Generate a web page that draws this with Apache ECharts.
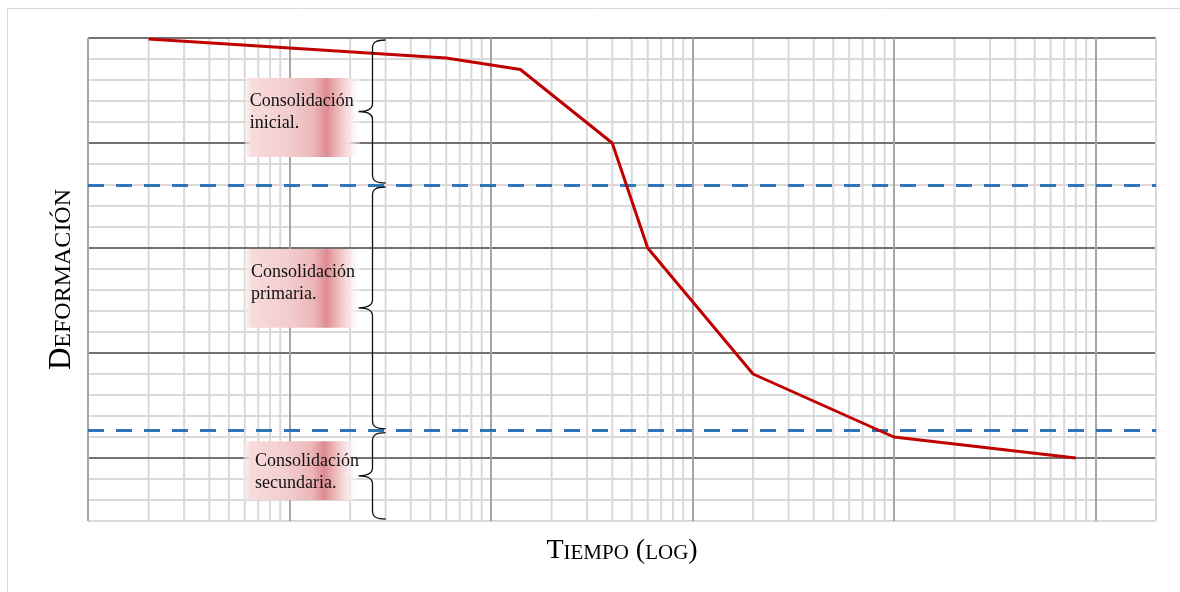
<!DOCTYPE html>
<html>
<head>
<meta charset="utf-8">
<title>Curva de consolidación</title>
<script src="https://cdn.jsdelivr.net/npm/echarts@6/dist/echarts.min.js"></script>
<style>
  html, body { margin: 0; padding: 0; background: #ffffff; }
  #chart { width: 1180px; height: 592px; }
</style>
</head>
<body>
<div id="chart"></div>
<script>
// Time (log scale) and deformation readings of the consolidation curve
const tiempo = [2, 60, 140, 400, 600, 2000, 10000, 80000];
const deformacion = [0.05, 0.95, 1.5, 5, 10, 16, 19, 20];

// Axis ranges
const tiempoMin = 1;
const tiempoMax = 200000;
const deformacionMin = 0;
const deformacionMax = 23;
const decadas = [1, 10, 100, 1000, 10000];

// Limits between the three consolidation stages (dashed lines)
const limitesEtapa = [7, 18.7];
const nombresEtapa = ['Consolidación\ninicial.', 'Consolidación\nprimaria.', 'Consolidación\nsecundaria.'];

// Where each stage note sits (time for x, deformation for y)
const llaveTiempo = 25.6;
const notaTiempoIzq = [6.0, 6.0, 5.9];
const notaTiempoDer = [22.4, 22.4, 21.7];
const notaTextoTiempo = [6.35, 6.45, 6.75];
const notaSup = [1.9, 10.05, 19.2];
const notaInf = [5.67, 13.8, 22.0];
const notaTextoDef = [3.55, 11.67, 20.69];

// Intermediate lines inside each decade: 2..9 x 10^k
const lineasMenores = [];
decadas.forEach(d => { for (let m = 2; m <= 9; m++) lineasMenores.push(m * d); });

const serif = 'Liberation Serif, Times New Roman, serif';

const chart = echarts.init(document.getElementById('chart'), null, { renderer: 'canvas' });

const bordesEtapa = [deformacionMin].concat(limitesEtapa, [deformacionMax]);
const llaves = nombresEtapa.map((_, i) => [llaveTiempo, bordesEtapa[i], bordesEtapa[i + 1]]);
const notas = nombresEtapa.map((_, i) => [notaTiempoIzq[i], notaSup[i], notaTiempoDer[i], notaInf[i], notaTextoTiempo[i], notaTextoDef[i]]);

const degradado = new echarts.graphic.LinearGradient(0, 0, 1, 0, [
  { offset: 0.0, color: 'rgba(250,236,236,0.5)' },
  { offset: 0.06, color: 'rgba(247,220,221,1)' },
  { offset: 0.40, color: 'rgba(243,203,205,1)' },
  { offset: 0.60, color: 'rgba(237,182,185,1)' },
  { offset: 0.71, color: 'rgba(221,140,145,1)' },
  { offset: 0.79, color: 'rgba(236,178,181,1)' },
  { offset: 0.90, color: 'rgba(248,225,226,0.95)' },
  { offset: 1.0, color: 'rgba(255,255,255,0.3)' }
]);

const option = {
  animation: false,
  backgroundColor: '#ffffff',
  graphic: [{
    type: 'rect',
    shape: { x: 7.5, y: 8.5, width: 1300, height: 700 },
    style: { fill: 'none', stroke: '#d9d9d9', lineWidth: 1 },
    silent: true, z: -10
  }],
  grid: { left: 88, right: 24, top: 38, bottom: 71, containLabel: false },
  xAxis: {
    type: 'log',
    logBase: 10,
    min: tiempoMin,
    max: tiempoMax,
    z: 2,
    name: '{a|T}{b|IEMPO}{s| }{a|(}{b|LOG}{a|)}',
    nameLocation: 'middle',
    nameGap: 12,
    nameTextStyle: {
      fontFamily: serif,
      color: '#000',
      rich: {
        a: { fontFamily: serif, fontSize: 28, color: '#000', verticalAlign: 'bottom', lineHeight: 32 },
        s: { fontFamily: serif, fontSize: 28, color: '#000', verticalAlign: 'bottom', lineHeight: 32, width: 7 },
        b: { fontFamily: serif, fontSize: 21, color: '#000', verticalAlign: 'bottom', lineHeight: 32, padding: [0, 0, 1, 0] }
      }
    },
    axisLine: { show: false },
    axisTick: { show: false },
    axisLabel: { show: false },
    splitLine: {
      show: true,
      lineStyle: { width: 2, color: ['#a6a6a6', '#a6a6a6', '#a6a6a6', '#a6a6a6', '#a6a6a6', '#a6a6a6', '#d9d9d9'] }
    }
  },
  yAxis: {
    type: 'value',
    inverse: true,
    min: deformacionMin,
    max: deformacionMax,
    interval: 1,
    z: 1,
    name: '{a|D}{b|EFORMACIÓN}',
    nameLocation: 'middle',
    nameGap: 11,
    nameTextStyle: {
      fontFamily: serif,
      color: '#000',
      rich: {
        a: { fontFamily: serif, fontSize: 31, color: '#000', verticalAlign: 'bottom', lineHeight: 34 },
        b: { fontFamily: serif, fontSize: 24, color: '#000', verticalAlign: 'bottom', lineHeight: 34, padding: [0, 0, 1, 0] }
      }
    },
    axisLine: { show: false },
    axisTick: { show: false },
    axisLabel: { show: false },
    splitLine: {
      show: true,
      lineStyle: { width: 2, color: ['#767171', '#d9d9d9', '#d9d9d9', '#d9d9d9', '#d9d9d9'] }
    }
  },
  series: [
    {
      // intermediate vertical lines of each log decade
      type: 'custom',
      name: 'lineas',
      coordinateSystem: 'cartesian2d',
      silent: true,
      z: 0.5,
      data: lineasMenores.map(v => [v]),
      renderItem: function (params, api) {
        const p0 = api.coord([api.value(0), deformacionMin]);
        const p1 = api.coord([api.value(0), deformacionMax]);
        return {
          type: 'line',
          shape: { x1: p0[0], y1: p0[1], x2: p1[0], y2: p1[1] },
          style: { stroke: '#d9d9d9', lineWidth: 2 }
        };
      }
    },
    {
      type: 'line',
      name: 'Deformación',
      data: tiempo.map((t, i) => [t, deformacion[i]]),
      showSymbol: false,
      symbol: 'none',
      z: 4,
      lineStyle: { color: '#c00000', width: 3 },
      itemStyle: { color: '#c00000' },
      markLine: {
        silent: true,
        z: 3,
        symbol: ['none', 'none'],
        label: { show: false },
        lineStyle: { color: '#2e75b6', width: 3, type: [16, 12] },
        emphasis: { disabled: true },
        data: limitesEtapa.map(v => ({ yAxis: v }))
      }
    },
    {
      // shaded note boxes with the stage names
      type: 'custom',
      name: 'notas',
      coordinateSystem: 'cartesian2d',
      silent: true,
      z: 5,
      data: notas,
      renderItem: function (params, api) {
        const a = api.coord([api.value(0), api.value(1)]);
        const b = api.coord([api.value(2), api.value(3)]);
        const t = api.coord([api.value(4), api.value(5)]);
        return {
          type: 'group',
          children: [
            {
              type: 'rect',
              shape: { x: a[0], y: a[1], width: b[0] - a[0], height: b[1] - a[1] },
              style: { fill: degradado }
            },
            {
              type: 'text',
              x: t[0], y: t[1],
              style: {
                text: nombresEtapa[params.dataIndex],
                fontFamily: serif,
                fontSize: 18,
                lineHeight: 22,
                fill: '#111',
                align: 'left',
                verticalAlign: 'middle'
              }
            }
          ]
        };
      }
    },
    {
      // curly braces spanning each stage
      type: 'custom',
      name: 'llaves',
      coordinateSystem: 'cartesian2d',
      silent: true,
      z: 6,
      data: llaves,
      renderItem: function (params, api) {
        const top = api.coord([api.value(0), api.value(1)]);
        const bot = api.coord([api.value(0), api.value(2)]);
        const x = Math.round(top[0]) + 0.5;
        const yT = top[1] + 2;
        const yB = bot[1] - 2;
        const yM = (yT + yB) / 2;
        const path =
          'M' + (x + 13) + ' ' + yT +
          ' C' + (x + 4) + ' ' + yT + ' ' + x + ' ' + (yT + 2) + ' ' + x + ' ' + (yT + 8) +
          ' L' + x + ' ' + (yM - 8) +
          ' C' + x + ' ' + (yM - 2) + ' ' + (x - 5) + ' ' + yM + ' ' + (x - 14) + ' ' + yM +
          ' C' + (x - 5) + ' ' + yM + ' ' + x + ' ' + (yM + 2) + ' ' + x + ' ' + (yM + 8) +
          ' L' + x + ' ' + (yB - 8) +
          ' C' + x + ' ' + (yB - 2) + ' ' + (x + 4) + ' ' + yB + ' ' + (x + 13) + ' ' + yB;
        return {
          type: 'path',
          shape: { pathData: path },
          style: { fill: 'none', stroke: '#111', lineWidth: 1.3 }
        };
      }
    }
  ]
};

chart.setOption(option);
</script>
</body>
</html>
